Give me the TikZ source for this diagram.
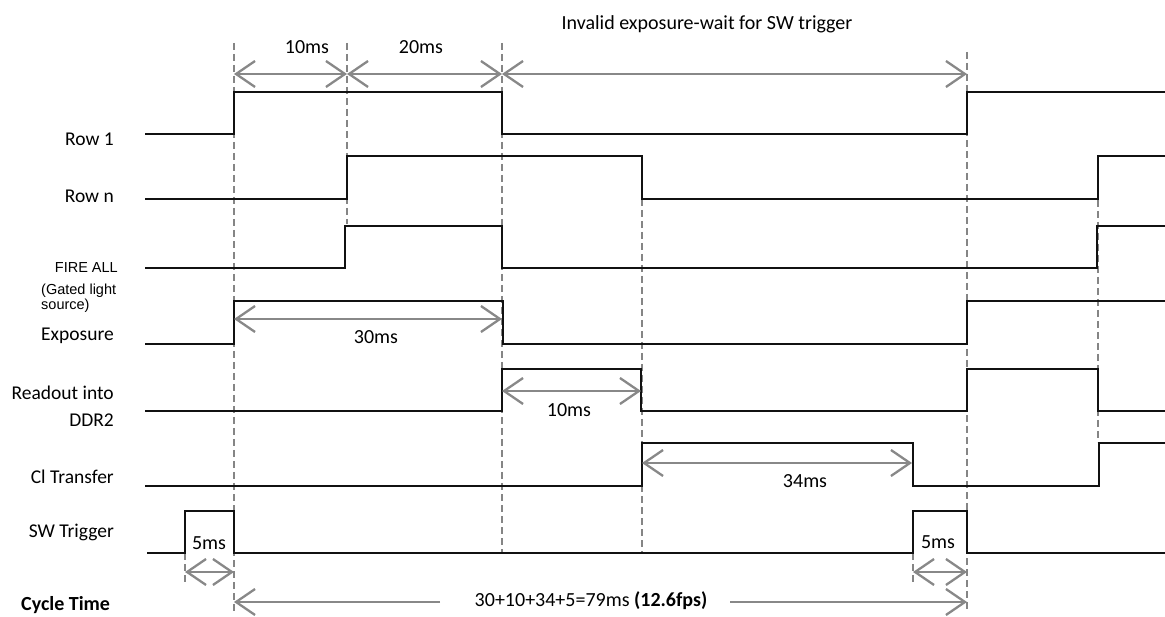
\documentclass[tikz,border=0pt]{standalone}
\usepackage{fontspec}
\setmainfont{Carlito}
\newfontfamily\arialf{Liberation Sans}
\usetikzlibrary{arrows.meta}
\definecolor{sig}{HTML}{111111}
\definecolor{dim}{HTML}{888888}
\definecolor{grid}{HTML}{858585}
\begin{document}
\begin{tikzpicture}[x=1pt,y=-1pt,
  signal/.style={draw=sig,line width=2.8pt,line join=miter},
  guide/.style={draw=grid,line width=2pt,dash pattern=on 7pt off 4pt},
  dimarrow/.style={draw=dim,line width=2.3pt,{Straight Barb[length=19pt,width=26pt,line width=2.3pt]}-{Straight Barb[length=19pt,width=26pt,line width=2.3pt]}},
  halfarrow/.style={draw=dim,line width=2.3pt,-{Straight Barb[length=19pt,width=26pt,line width=2.3pt]}},
  lbl/.style={font=\fontsize{19.5}{21}\selectfont,inner sep=0pt,anchor=east},
  dlbl/.style={font=\fontsize{20}{22}\selectfont,inner sep=0pt}]
\useasboundingbox (0,0) rectangle (1165,617);
\fill[white] (0,0) rectangle (1165,617);

% guide coordinates
\coordinate (gA1) at (234,43);  \coordinate (gA2) at (234,614);
\coordinate (gB1) at (347,43);  \coordinate (gB2) at (347,224);
\coordinate (gC1) at (502,43);  \coordinate (gC2) at (502,553);
\coordinate (gD1) at (642,199); \coordinate (gD2) at (642,553);
\coordinate (gE1) at (967,52);  \coordinate (gE2) at (967,612);
\coordinate (gF1) at (1098,200); \coordinate (gF2) at (1098,442);
\coordinate (gG1) at (185,553); \coordinate (gG2) at (185,585);
\coordinate (gH1) at (913,553); \coordinate (gH2) at (913,585);
\foreach \g in {A,B,C,D,E,F,G,H} \draw[guide] (g\g1) -- (g\g2);

% signals
\draw[signal] (145,134) -| (234,92) -| (502,134) -| (967,92) -- (1165,92);
\draw[signal] (145,199) -| (347,156) -| (642,199) -| (1098,156) -- (1165,156);
\draw[signal] (145,268) -| (345,226) -| (502,268) -| (1097,226) -- (1165,226);
\draw[signal] (145,344) -| (234,301) -| (503,344) -| (967,301) -- (1165,301);
\draw[signal] (145,411) -| (502,369) -| (641,411) -| (967,369) -| (1098,411) -- (1165,411);
\draw[signal] (145,486) -| (642,443) -| (913,486) -| (1099,443) -- (1165,443);
\draw[signal] (147,553) -| (185,511) -| (234,553) -| (913,511) -| (967,553) -- (1165,553);

% signal labels
\node[lbl] (row1) at (114,139) {Row 1};
\node[lbl] (rown) at (114,196) {Row n};
\node[lbl,font=\arialf\fontsize{14.5}{16}\selectfont] (fire) at (118,268) {FIRE ALL};
\node[inner sep=0pt,anchor=north west,align=left,font=\arialf\fontsize{14.5}{13.5}\selectfont] (gated) at (41,284) {(Gated light\\source)};
\node[lbl] (expo) at (114,336) {Exposure};
\node[lbl] (read1) at (114,393) {Readout into};
\node[lbl] (read2) at (114,420) {DDR2};
\node[lbl] (cl) at (114,477) {Cl Transfer};
\node[lbl] (sw) at (114,532) {SW Trigger};
\node[lbl,font=\bfseries\fontsize{20}{22}\selectfont,anchor=west] (cyc) at (21,605) {Cycle Time};

% dimension arrows
\coordinate (a1) at (234,74); \coordinate (a2) at (347,74);
\coordinate (a3) at (502,74); \coordinate (a4) at (967,74);
\draw[dimarrow] (a1) -- (a2);
\draw[dimarrow] (a2) -- (a3);
\draw[dimarrow] (a3) -- (a4);
\node[dlbl] (t10) at (307,47) {10ms};
\node[dlbl] (t20) at (421,47) {20ms};
\node[dlbl] (inv) at (707,24) {Invalid exposure-wait for SW trigger};

\coordinate (e1) at (234,319); \coordinate (e2) at (502,319);
\draw[dimarrow] (e1) -- (e2);
\node[dlbl] (t30) at (376,337) {30ms};

\coordinate (r1) at (502,391); \coordinate (r2) at (641,391);
\draw[dimarrow] (r1) -- (r2);
\node[dlbl] (t10b) at (569,410) {10ms};

\coordinate (c1) at (642,463); \coordinate (c2) at (912,463);
\draw[dimarrow] (c1) -- (c2);
\node[dlbl] (t34) at (805,481) {34ms};

\coordinate (s1) at (185,572); \coordinate (s2) at (234,572);
\draw[dimarrow] (s1) -- (s2);
\node[dlbl] (t5a) at (209,543) {5ms};

\coordinate (s3) at (913,572); \coordinate (s4) at (967,572);
\draw[dimarrow] (s3) -- (s4);
\node[dlbl] (t5b) at (938,542) {5ms};

% cycle time
\node[dlbl] (cyct) at (591,601) {30+10+34+5=79ms \textbf{(12.6fps)}};
\coordinate (y1) at (234,602); \coordinate (y1e) at (440,602);
\coordinate (y2s) at (730,602); \coordinate (y2) at (967,602);
\draw[halfarrow] (y1e) -- (y1);
\draw[halfarrow] (y2s) -- (y2);
\end{tikzpicture}
\end{document}
